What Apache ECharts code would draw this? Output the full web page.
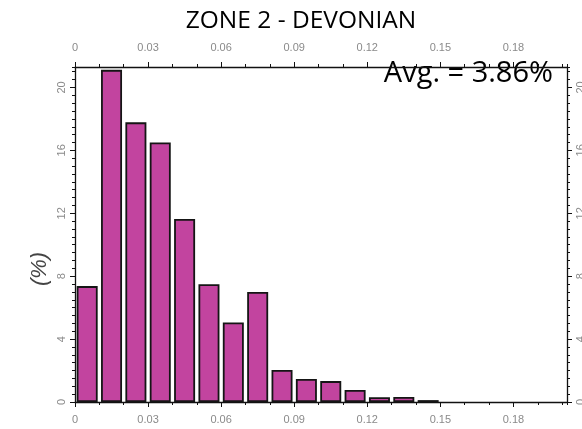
<!DOCTYPE html>
<html>
<head>
<meta charset="utf-8">
<script src="https://cdn.jsdelivr.net/npm/echarts@6/dist/echarts.min.js"></script>
<style>html,body{margin:0;padding:0;background:#fff}#c{width:582px;height:429px}</style>
</head>
<body>
<div id="c"></div>
<script>
// Data (bin centers, % of samples per 0.01 bin)
const binCenters = [0.005, 0.015, 0.025, 0.035, 0.045, 0.055, 0.065, 0.075, 0.085, 0.095, 0.105, 0.115, 0.125, 0.135, 0.145];
const percents   = [7.37, 21.12, 17.78, 16.5, 11.64, 7.49, 5.06, 7.0, 2.03, 1.46, 1.33, 0.76, 0.30, 0.32, 0.12];
const titleText = 'ZONE 2 - DEVONIAN';
const avgText = 'Avg. = 3.86%';
const yName = '(%)';
const xMin = 0, xMax = 0.202, xMajor = 0.03, xMinor = 0.01;
const yMin = 0, yMax = 21.3, yMajor = 4, yMinor = 0.5;

const chart = echarts.init(document.getElementById('c'));
const labelColor = '#8a8a8a';
const lineStyle = {color: '#111', width: 1.3};
function fmtX(v){ return v === 0 ? '0' : (+v.toFixed(2)).toString(); }

function xAx(pos, major){
  return {
    type: 'value', position: pos, min: xMin, max: xMax,
    interval: major ? xMajor : xMinor,
    axisLine: {show: major, onZero: false, lineStyle},
    axisTick: {show: true, inside: false, length: major ? 5 : 3, lineStyle: {color: '#111', width: 1}},
    axisLabel: {show: major, showMaxLabel: false, margin: pos === 'bottom' ? 12 : 14, color: labelColor, fontSize: 11, fontFamily: 'Liberation Sans', formatter: fmtX},
    splitLine: {show: false}
  };
}
function yAx(pos, major){
  return {
    type: 'value', position: pos, min: yMin, max: yMax,
    interval: major ? yMajor : yMinor,
    axisLine: {show: major, onZero: false, lineStyle},
    axisTick: {show: true, inside: false, length: major ? 5 : 3, lineStyle: {color: '#111', width: 1}},
    axisLabel: {show: major, showMaxLabel: false, rotate: 90, margin: 8, color: labelColor, fontSize: 11, fontFamily: 'Liberation Sans'},
    splitLine: {show: false}
  };
}

chart.setOption({
  animation: false,
  backgroundColor: '#fff',
  grid: {left: 75, right: 15, top: 67, bottom: 27, containLabel: false, outerBoundsMode: 'none'},
  xAxis: [xAx('bottom', true), xAx('top', true), xAx('bottom', false), xAx('top', false)],
  yAxis: [yAx('left', true), yAx('right', true), yAx('left', false), yAx('right', false)],
  graphic: [
    {type: 'text', x: 301, y: 21, style: {text: titleText, font: '24.5px "Open Sans"', fill: '#000', textAlign: 'center', textVerticalAlign: 'middle'}},
    {type: 'text', x: 553, y: 74, style: {text: avgText, font: '29px "Open Sans"', fill: '#000', textAlign: 'right', textVerticalAlign: 'middle'}},
    {type: 'text', x: 40, y: 269, rotation: Math.PI / 2, style: {text: yName, font: 'italic 22px "Liberation Sans"', fill: '#444', textAlign: 'center', textVerticalAlign: 'middle'}}
  ],
  series: [{
    type: 'bar', xAxisIndex: 0, yAxisIndex: 0,
    barWidth: 21,
    data: binCenters.map((c, i) => [c, percents[i]]),
    itemStyle: {color: '#c2449f', borderColor: '#151515', borderWidth: 1.8}
  }]
});
</script>
</body>
</html>
